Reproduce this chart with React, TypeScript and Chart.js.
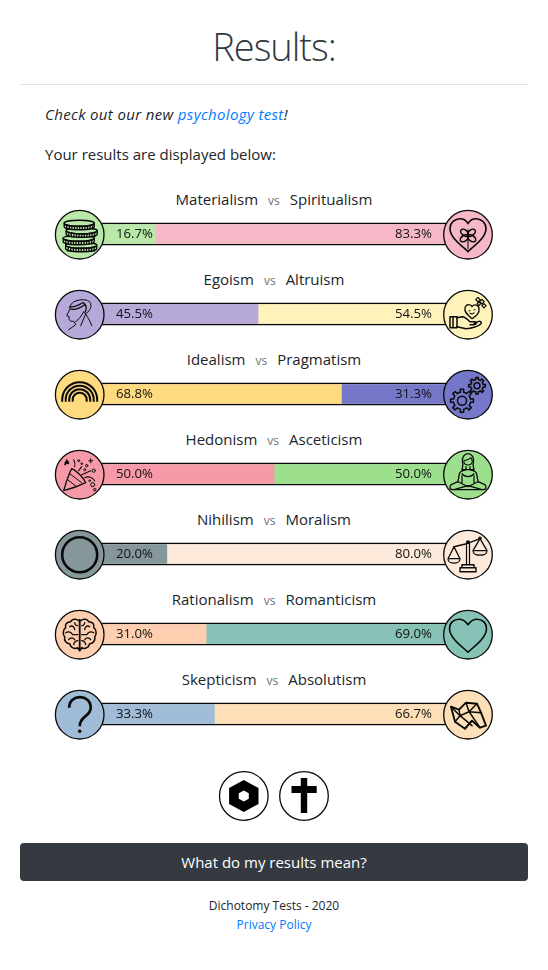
import React, { useEffect, useRef } from "react";
import { Chart, registerables } from "chart.js";

Chart.register(...registerables);

const leftNames = ["Materialism", "Egoism", "Idealism", "Hedonism", "Nihilism", "Rationalism", "Skepticism"];
const rightNames = ["Spiritualism", "Altruism", "Pragmatism", "Asceticism", "Moralism", "Romanticism", "Absolutism"];
const leftValues = [16.7, 45.5, 68.8, 50.0, 20.0, 31.0, 33.3];
const rightValues = [83.3, 54.5, 31.3, 50.0, 80.0, 69.0, 66.7];
const leftColors = ["#b9e8a9", "#b6a8d9", "#ffdb80", "#f79aa8", "#86979c", "#fdcfb0", "#a1bcd7"];
const rightColors = ["#f6b8c6", "#fff3bb", "#7577c9", "#9ce08e", "#fdeada", "#86c2b6", "#fde0b8"];

const FONT = '"Open Sans", sans-serif';
const TEXT = "#212529";
const INK = "#0a0a0a";

type Ctx = CanvasRenderingContext2D;

function sp(c: Ctx, d: string, lw = 1.3) {
  c.lineWidth = lw;
  c.stroke(new Path2D(d));
}
const HEART = "M0 17 C-6 11 -18 3 -18 -6 C-18 -12 -13 -16 -8 -16 C-4 -16 -1 -13 0 -11 C1 -13 4 -16 8 -16 C13 -16 18 -12 18 -6 C18 3 6 11 0 17Z";

function coin(c: Ctx, x: number, y: number, w: number, h: number) {
  c.lineWidth = 1.4;
  c.fillStyle = "#b9e8a9";
  c.beginPath();
  c.moveTo(x - w, y);
  c.lineTo(x - w, y + h);
  c.ellipse(x, y + h, w, 3, 0, Math.PI, 0, true);
  c.lineTo(x + w, y);
  c.ellipse(x, y, w, 3, 0, 0, Math.PI, false);
  c.closePath();
  c.fill();
  c.stroke();
  c.beginPath();
  c.ellipse(x, y, w, 3, 0, 0, Math.PI * 2);
  c.stroke();
  c.lineWidth = 1.3;
  c.beginPath();
  for (let t = x - w + 2.5; t < x + w - 1; t += 2.6) {
    c.moveTo(t, y + 3);
    c.lineTo(t, y + h + 2.5);
  }
  c.stroke();
}

function gear(c: Ctx, x: number, y: number, r: number, teeth: number, hole: number, fill: string) {
  c.beginPath();
  const step = (Math.PI * 2) / teeth;
  for (let i = 0; i < teeth; i++) {
    const a = i * step;
    const pts: [number, number][] = [
      [r * 0.78, a - step * 0.5],
      [r * 0.78, a - step * 0.25],
      [r * 1.05, a - step * 0.18],
      [r * 1.05, a + step * 0.18],
      [r * 0.78, a + step * 0.25],
    ];
    pts.forEach(([m, t], k) => {
      const px = x + m * Math.cos(t);
      const py = y + m * Math.sin(t);
      if (i === 0 && k === 0) c.moveTo(px, py);
      else c.lineTo(px, py);
    });
  }
  c.closePath();
  c.fillStyle = fill;
  c.fill();
  c.lineWidth = 1.5;
  c.stroke();
  c.beginPath();
  c.arc(x, y, hole, 0, Math.PI * 2);
  c.stroke();
}

const leftIcons: ((c: Ctx) => void)[] = [
  (c) => {
    coin(c, 1.5, 10.5, 15.5, 3.5);
    coin(c, -1, 3.5, 15.5, 3.5);
    coin(c, 2, -4, 15.5, 3.5);
    coin(c, -0.5, -11.5, 15, 3.5);
  },
  (c) => {
    sp(c, "M-3 -14 C-8 -13 -10 -9 -10 -5 L-13 1 L-10.5 2 C-11 5 -10.5 7 -6 6.5 L-4 10 L-11 15", 1);
    sp(c, "M-3 -14 C3 -16 10 -15 11 -11 C12 -6 9 -3 6 -1 C8 3 11 7 12 11", 1);
    sp(c, "M-10 -8 C-6 -7 -2 -9 3 -12 M-9 -5.5 C-5 -5 0 -6 5 -10 M4 -12 C7 -9 7 -5 5 -2", 1.3);
    sp(c, "M4 -3 C2 1 -1 5 -4 7 M6 -1 L1 11", 1);
  },
  (c) => {
    c.lineCap = "butt";
    [17.5, 14, 10.5, 7].forEach((r) => {
      c.lineWidth = 2;
      c.beginPath();
      c.moveTo(-r, 7);
      c.lineTo(-r, 5);
      c.arc(0, 5, r, Math.PI, 0);
      c.lineTo(r, 7);
      c.stroke();
    });
  },
  (c) => {
    sp(c, "M-16 16 C-13 6 -11 -1 -8 -6 C-3 -4 3 2 6 8 C0 11 -8 14 -16 16 Z", 1.3);
    sp(c, "M-12 5 L-3 12 M-10 -1 L2 8", 1);
    sp(c, "M-5 -8 C-4 -11 -5 -13 -6 -15 M-1 -4 L2 -8 M2 0 L11 -4 M5 3 C9 1 13 3 15 6", 1.1);
    sp(c, "M-13 -15 L-11 -11 L-15 -12 L-11 -13 L-15 -10 Z", 1.1);
    sp(c, "M11 -16 L11 -12 M9 -14 L13 -14", 1.1);
    [[-1, -14, 1], [2, -11, 0.9], [7, -9, 1.2], [5, -5, 1], [14, -4, 1.6], [13, 10, 2], [15, 15, 1.2], [10, 6, 0.9]].forEach(([x, y, r]) => {
      c.beginPath();
      c.arc(x, y, r, 0, Math.PI * 2);
      c.lineWidth = 1;
      c.stroke();
    });
  },
  (c) => {
    c.lineWidth = 2.6;
    c.beginPath();
    c.arc(0, 0, 17.5, 0, Math.PI * 2);
    c.stroke();
  },
  (c) => {
    sp(c, "M-1 -14 C-4 -17 -8 -15 -9 -13 C-13 -13 -15 -10 -14 -7 C-17 -5 -17 0 -15 2 C-16 6 -13 9 -10 9 C-9 13 -5 15 -2 13 L-1 15", 1.5);
    sp(c, "M1 -14 C4 -17 8 -15 9 -13 C13 -13 15 -10 14 -7 C17 -5 17 0 15 2 C16 6 13 9 10 9 C9 13 5 15 2 13 L1 15", 1.5);
    sp(c, "M0 -15 L0 16", 1.8);
    sp(c, "M-10 -8 C-7 -10 -5 -7 -5 -5 M-14 -2 C-11 -4 -8 -2 -7 0 L-2 0 M-11 5 C-9 2 -6 3 -5 5 M-6 10 C-6 8 -4 6 -2 6 M-2 -9 C-4 -9 -5 -11 -5 -12", 1.3);
    sp(c, "M10 -8 C7 -10 5 -7 5 -5 M14 -2 C11 -4 8 -2 7 0 L2 0 M11 5 C9 2 6 3 5 5 M6 10 C6 8 4 6 2 6 M2 -9 C4 -9 5 -11 5 -12", 1.3);
  },
  (c) => {
    c.lineCap = "butt";
    sp(c, "M-10.5 -7 C-10.5 -21 11 -21 11 -7 C11 2 0 1 0 11.5", 2.7);
    c.fillStyle = INK;
    c.beginPath();
    c.arc(0, 16.5, 1.8, 0, Math.PI * 2);
    c.fill();
  },
];

const rightIcons: ((c: Ctx) => void)[] = [
  (c) => {
    sp(c, HEART, 1.6);
    [-50, 50, -125, 125].forEach((deg) => {
      c.save();
      c.translate(0, 1);
      c.rotate((deg * Math.PI) / 180);
      c.beginPath();
      c.ellipse(0, -4.5, 2.8, 4.5, 0, 0, Math.PI * 2);
      c.lineWidth = 1.6;
      c.stroke();
      c.restore();
    });
    sp(c, "M0 -5 L0 14", 1.1);
  },
  (c) => {
    sp(c, "M-18 2 L-11 2 L-11 13 L-18 13 Z M-15 2 L-15 13", 1.5);
    sp(c, "M-11 3 L-6 2 C-3 2 0 5 2 7 L7 7 C9 7 9 10 6 10 L2 10 M-11 12 L-2 14 C3 14 10 12 13 9 C14 7 12 6 10 7 L6 9", 1.5);
    sp(c, "M4 4 C-1 0 -4 -3 -3 -7 C-2 -11 3 -11 4 -8 C6 -11 11 -10 11 -6 C12 -2 8 2 4 4 Z", 1.3);
    sp(c, "M1 -4 L2 -4 M6 -5 L7 -5 M2 -1.5 C3 -0.5 5 -0.5 6 -2", 1.1);
    [[10, -15, 1.6], [14, -13, 1.6], [11, -11, 1.3], [16, -9, 1.5]].forEach(([x, y, r]) => {
      c.save();
      c.translate(x, y);
      c.rotate(Math.PI / 4);
      c.lineWidth = 1.2;
      c.strokeRect(-r, -r, r * 2, r * 2);
      c.restore();
    });
  },
  (c) => {
    gear(c, -6, 6, 11, 8, 4.5, "#7577c9");
    gear(c, 9, -9, 8, 8, 3, "#7577c9");
  },
  (c) => {
    sp(c, "M-5 -10 C-7 -18 -3 -21 0 -21 C3 -21 7 -18 5 -10 L6 -5 L-6 -5 Z", 1.3);
    sp(c, "M-4 -14 C-1 -14 2 -16 3 -17 C4 -15 5 -14 4 -12 C3 -9 -3 -9 -4 -12 Z", 1.1);
    sp(c, "M-2 -8 L-2 -5 C-6 -4 -9 -3 -9 1 L-10 7 L-17 10 C-19 12 -18 15 -15 15 L15 15 C18 15 19 12 17 10 L10 7 L9 1 C9 -3 6 -4 2 -5 L2 -8", 1.3);
    sp(c, "M-6 1 L-6 8 M6 1 L6 8 M-6 -1 C-3 3 3 3 6 -1 M-10 7 L0 12 L10 7 M-14 15 L0 11 L14 15", 1.2);
  },
  (c) => {
    sp(c, "M-1.5 -11 L-1.5 10 M1.5 -11 L1.5 10", 1.2);
    sp(c, "M-6 10 L6 10 L6 13 L-6 13 Z M-8 13 L8 13 L8 17 L-8 17 Z", 1.4);
    sp(c, "M-14 -8 L-1.5 -11 M1.5 -12 L12 -16", 1.4);
    sp(c, "M-14 -8 L-20 4 M-14 -8 L-8 4 M-20 4 L-8 4 C-8 10 -20 10 -20 4 Z", 1.3);
    sp(c, "M12 -16 L5 -4 M12 -16 L19 -4 M5 -4 L19 -4 C19 2 5 2 5 -4 Z", 1.3);
    c.fillStyle = INK;
    [[0, -12.5, 2], [12, -16.5, 1.7]].forEach(([x, y, r]) => {
      c.beginPath();
      c.arc(x, y, r, 0, Math.PI * 2);
      c.fill();
    });
  },
  (c) => {
    sp(c, "M0 17.5 C-6 12 -18.5 3 -18.5 -6 C-18.5 -12 -14 -15.5 -9 -15.5 C-5 -15.5 -2 -13 0 -10 C2 -13 5 -15.5 9 -15.5 C14 -15.5 18.5 -12 18.5 -6 C18.5 3 6 12 0 17.5Z", 1.6);
  },
  (c) => {
    sp(c, "M-17 -8 L-9 -5 L-2 -12 L9 -11 L13 -2 L18 11 L12 13 L4 6 L-3 14 L-13 7 Z", 1.9);
    sp(c, "M-9 -5 L-8 1 L-17 -8 M-8 1 L-13 7 M-8 1 L4 11 M-3 14 L4 6 M-2 -12 L1 -3 L9 -11 M1 -3 L-8 1 M1 -3 L12 13 M1 -3 L13 -2", 1.5);
  },
];

const dressing = {
  id: "dressing",
  beforeDatasetsDraw(chart: any) {
    const { ctx, scales } = chart;
    const xs = scales.x;
    const ys = scales.y;
    ctx.save();
    ctx.strokeStyle = INK;
    ctx.lineWidth = 1.3;
    leftNames.forEach((_, i) => {
      const y = ys.getPixelForValue(i);
      ctx.beginPath();
      ctx.moveTo(xs.left - 5, y - 10.5);
      ctx.lineTo(xs.right + 5, y - 10.5);
      ctx.moveTo(xs.left - 5, y + 10.5);
      ctx.lineTo(xs.right + 5, y + 10.5);
      ctx.stroke();
    });
    ctx.restore();
  },
  afterDatasetsDraw(chart: any) {
    const { ctx, scales } = chart;
    const xs = scales.x;
    const ys = scales.y;
    const R = 24.3;
    leftNames.forEach((_, i) => {
      const y = ys.getPixelForValue(i);
      const cx = [xs.left - 15.6, xs.right + 15];
      const fills = [leftColors[i], rightColors[i]];
      const icons = [leftIcons[i], rightIcons[i]];
      cx.forEach((x, k) => {
        ctx.save();
        ctx.translate(x, y + 0.7);
        ctx.fillStyle = fills[k];
        ctx.strokeStyle = INK;
        ctx.lineWidth = 1.3;
        ctx.beginPath();
        ctx.arc(0, 0, R, 0, Math.PI * 2);
        ctx.fill();
        ctx.stroke();
        ctx.lineJoin = "round";
        ctx.lineCap = "round";
        icons[k](ctx);
        ctx.restore();
      });
      ctx.save();
      ctx.fillStyle = "#111";
      ctx.font = `13.2px ${FONT}`;
      ctx.textBaseline = "middle";
      ctx.textAlign = "left";
      ctx.fillText(leftValues[i].toFixed(1) + "%", xs.left + 20.7, y + 0.5);
      ctx.textAlign = "right";
      ctx.fillText(rightValues[i].toFixed(1) + "%", xs.right - 21, y + 0.5);
      ctx.restore();
    });
  },
};

const abs = (o: React.CSSProperties): React.CSSProperties => ({ position: "absolute", ...o });

export default function App() {
  const ref = useRef<HTMLCanvasElement>(null);
  useEffect(() => {
    const chart = new Chart(ref.current as HTMLCanvasElement, {
      type: "bar",
      data: {
        labels: leftNames.map((n, i) => `${n} vs ${rightNames[i]}`),
        datasets: [
          { label: "Left", data: leftValues, backgroundColor: leftColors, barThickness: 19, borderWidth: 0 },
          { label: "Right", data: rightValues, backgroundColor: rightColors, barThickness: 19, borderWidth: 0 },
        ],
      },
      options: {
        indexAxis: "y",
        animation: false,
        responsive: false,
        layout: { padding: { left: 95.3, right: 95, top: 0, bottom: 0 } },
        scales: {
          x: { type: "linear", stacked: true, min: 0, max: 100, display: false },
          y: { type: "category", stacked: true, display: false },
        },
        plugins: { legend: { display: false }, tooltip: { enabled: false }, title: { display: false } },
      },
      plugins: [dressing],
    } as any);
    return () => chart.destroy();
  }, []);

  return (
    <div style={abs({ left: 0, top: 0, width: 548, height: 970, background: "#fff", overflow: "hidden", fontFamily: FONT, color: TEXT, fontSize: 15 })}>
      <div style={abs({ left: 0, right: 0, top: 19, textAlign: "center", fontSize: 38, letterSpacing: -1, fontWeight: 300, lineHeight: "54px", color: "#343a40" })}>Results:</div>
      <div style={abs({ left: 20, width: 508, top: 84, height: 1, background: "#dee2e6" })} />
      <div style={abs({ left: 45, top: 103, lineHeight: "22px", fontStyle: "italic", letterSpacing: 0.35 })}>
        Check out our new <span style={{ color: "#007bff" }}>psychology test</span>!
      </div>
      <div style={abs({ left: 45, top: 143, lineHeight: "22px" })}>Your results are displayed below:</div>

      {leftNames.map((n, i) => (
        <div key={n} style={abs({ left: 0, right: 0, top: 188 + i * 80, lineHeight: "22px", textAlign: "center", whiteSpace: "nowrap" })}>
          {n}
          <span style={{ fontSize: 12, color: "#6c757d", margin: "0 10px" }}>vs</span>
          {rightNames[i]}
        </div>
      ))}

      <canvas ref={ref} width={548} height={560} style={abs({ left: 0, top: 194, width: 548, height: 560 })} />

      <svg width={548} height={60} style={abs({ left: 0, top: 766 })}>
        <circle cx={243.8} cy={30} r={24.3} fill="#fff" stroke={INK} strokeWidth={1.3} />
        <path fillRule="evenodd" fill="#000" d="M243.8 14 L258.5 22 L258.5 38 L243.8 46 L229.1 38 L229.1 22 Z M243.8 24.5 L238.8 27.2 L238.8 32.8 L243.8 35.5 L248.8 32.8 L248.8 27.2 Z" />
        <circle cx={304} cy={30} r={24.3} fill="#fff" stroke={INK} strokeWidth={1.3} />
        <path fill="#000" d="M300.8 12 L307.2 12 L307.2 20 L316.7 20 L316.7 27 L307.2 27 L307.2 47 L300.8 47 L300.8 27 L291.5 27 L291.5 20 L300.8 20 Z" />
      </svg>

      <div style={abs({ left: 20, width: 508, top: 843, height: 38, background: "#343a40", borderRadius: 4, color: "#fff", textAlign: "center", lineHeight: "38px", fontSize: 15 })}>What do my results mean?</div>
      <div style={abs({ left: 0, right: 0, top: 896, textAlign: "center", fontSize: 12, lineHeight: "20px" })}>Dichotomy Tests - 2020</div>
      <div style={abs({ left: 0, right: 0, top: 915, textAlign: "center", fontSize: 12, lineHeight: "20px", color: "#007bff" })}>Privacy Policy</div>
    </div>
  );
}
